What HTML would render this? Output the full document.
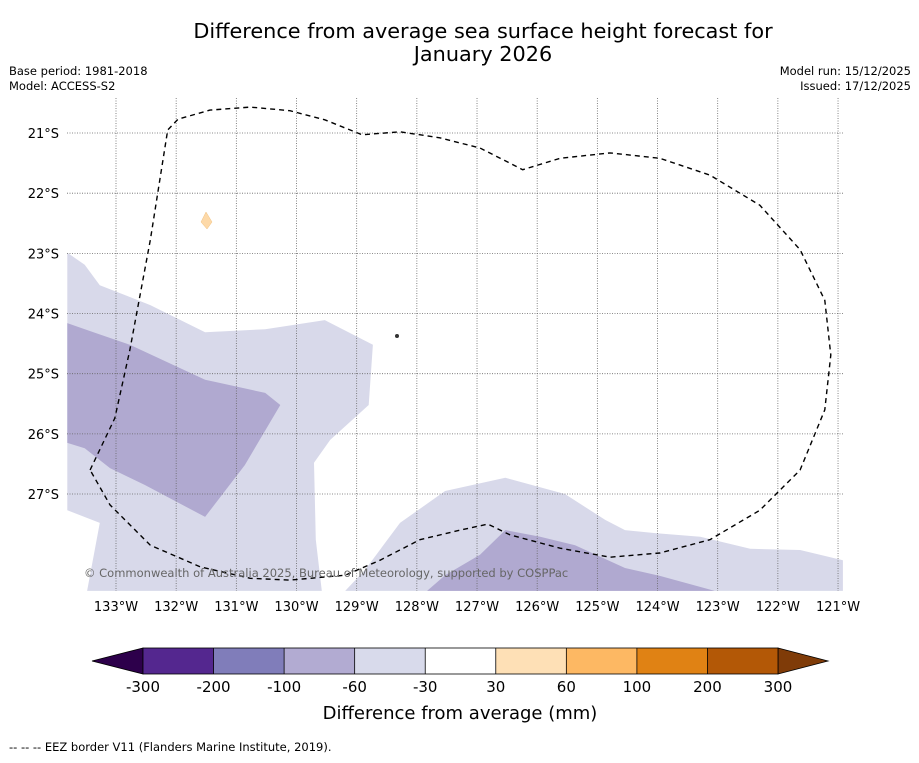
<!DOCTYPE html>
<html><head><meta charset="utf-8"><style>
body{margin:0;background:#fff;font-family:"Liberation Sans","DejaVu Sans",sans-serif;}
svg text{font-family:"DejaVu Sans","Liberation Sans",sans-serif;}
</style></head><body>
<svg id="chart" width="919" height="758" viewBox="0 0 919 758" xmlns="http://www.w3.org/2000/svg">
<text x="483" y="38" font-size="20.8" text-anchor="middle">Difference from average sea surface height forecast for</text>
<text x="483" y="61" font-size="20.8" text-anchor="middle">January 2026</text>
<text x="9" y="75" font-size="11.5">Base period: 1981-2018</text>
<text x="9" y="90" font-size="11.5">Model: ACCESS-S2</text>
<text x="911" y="75" font-size="11.5" text-anchor="end">Model run: 15/12/2025</text>
<text x="911" y="90" font-size="11.5" text-anchor="end">Issued: 17/12/2025</text>
<g id="map"></g>
<g id="cbar"></g>
<text x="460" y="719" font-size="18" text-anchor="middle">Difference from average (mm)</text>
<text x="9" y="751" font-size="11.5">-- -- -- EEZ border V11 (Flanders Marine Institute, 2019).</text>
</svg>
<script>
const lonTicks=[-133,-132,-131,-130,-129,-128,-127,-126,-125,-124,-123,-122,-121];
const latTicks=[-21,-22,-23,-24,-25,-26,-27];
const lightWest=[[-133.81,-22.99],[-133.52,-23.19],[-133.27,-23.53],[-132.43,-23.86],[-131.52,-24.31],[-130.52,-24.26],[-129.53,-24.11],[-128.73,-24.52],[-128.80,-25.52],[-129.44,-26.10],[-129.71,-26.48],[-129.68,-27.76],[-129.58,-28.61],[-133.48,-28.61],[-133.27,-27.48],[-133.81,-27.27]];
const darkWest=[[-133.81,-24.16],[-133.35,-24.32],[-132.77,-24.52],[-131.52,-25.10],[-130.52,-25.32],[-130.27,-25.52],[-130.86,-26.52],[-131.52,-27.38],[-132.52,-26.85],[-133.10,-26.57],[-133.52,-26.24],[-133.81,-26.15]];
const lightSouth=[[-129.19,-28.61],[-128.86,-28.26],[-128.28,-27.48],[-127.53,-26.95],[-126.53,-26.73],[-125.54,-27.00],[-124.87,-27.43],[-124.54,-27.60],[-124.04,-27.65],[-123.29,-27.71],[-122.46,-27.91],[-121.63,-27.93],[-120.92,-28.10],[-120.92,-28.61]];
const darkSouth=[[-127.83,-28.61],[-127.53,-28.35],[-126.95,-28.01],[-126.53,-27.60],[-125.95,-27.71],[-125.37,-27.85],[-124.54,-28.23],[-123.96,-28.36],[-123.05,-28.61]];
const eez=[[-133.43,-26.60],[-133.02,-25.74],[-132.77,-24.61],[-132.43,-22.78],[-132.14,-20.95],[-131.97,-20.77],[-131.44,-20.62],[-130.77,-20.57],[-130.11,-20.63],[-129.53,-20.78],[-128.91,-21.03],[-128.28,-20.98],[-127.62,-21.08],[-126.95,-21.25],[-126.24,-21.61],[-125.62,-21.42],[-124.79,-21.33],[-123.96,-21.42],[-123.13,-21.70],[-122.30,-22.20],[-121.63,-22.94],[-121.22,-23.78],[-121.12,-24.69],[-121.22,-25.60],[-121.63,-26.60],[-122.30,-27.27],[-123.13,-27.76],[-123.96,-27.98],[-124.79,-28.05],[-125.62,-27.90],[-126.45,-27.68],[-126.82,-27.50],[-127.28,-27.60],[-127.95,-27.76],[-128.61,-28.10],[-129.19,-28.35],[-130.11,-28.43],[-130.77,-28.40],[-131.60,-28.21],[-132.43,-27.85],[-133.10,-27.18],[-133.43,-26.60]];
const cbLabels=["-300","-200","-100","-60","-30","30","60","100","200","300"];
const cbColors=["#54278f","#807dba","#b2abd2","#d8daeb","#ffffff","#fee0b6","#fdb863","#e08214","#b35806"];
const NS="http://www.w3.org/2000/svg";
const X0=67,X1=843,Y0=98,Y1=591;
function px(lon){return 116+(lon+133)*60.17;}
function py(lat){return 133+(-21-lat)*60.17;}
function mk(t,a,p){const e=document.createElementNS(NS,t);for(const k in a)e.setAttribute(k,a[k]);p.appendChild(e);return e;}
const map=document.getElementById('map');
function poly(arr,fill,name){const e=mk('polygon',{points:arr.map(p=>px(p[0]).toFixed(1)+','+py(p[1]).toFixed(1)).join(' '),fill:fill},map);

}
const defs=mk('defs',{},map);const cp=mk('clipPath',{id:'clip'},defs);mk('rect',{x:X0,y:Y0,width:X1-X0,height:Y1-Y0},cp);
poly(lightWest,'#d8d9ea','contour-light-west');
poly(darkWest,'#b0a9d0','contour-dark-west');
poly(lightSouth,'#d8d9ea','contour-light-south');
poly(darkSouth,'#b0a9d0','contour-dark-south');
const isl=mk('polygon',{points:'206,212 212,222 207,229 201,222',fill:'#fdd9a8',stroke:'#f0c080','stroke-width':'0.5'},map);


mk('circle',{cx:397,cy:336,r:2,fill:'#333'},map);
lonTicks.forEach(l=>{const x=px(l);
const g=mk('line',{x1:x,x2:x,y1:Y0,y2:Y1,stroke:'#666','stroke-width':'0.8','stroke-dasharray':'1,1.5'},map);


const t=mk('text',{x:x,y:611,'font-size':'13','text-anchor':'middle'},map);t.textContent=Math.abs(l)+'°W';

});
latTicks.forEach(l=>{const y=py(l);
const g=mk('line',{x1:X0,x2:X1,y1:y,y2:y,stroke:'#666','stroke-width':'0.8','stroke-dasharray':'1,1.5'},map);


const t=mk('text',{x:59,y:y+5,'font-size':'13','text-anchor':'end'},map);t.textContent=Math.abs(l)+'°S';

});
const ez=mk('polyline',{points:eez.map(p=>px(p[0]).toFixed(1)+','+py(p[1]).toFixed(1)).join(' '),fill:'none',stroke:'#000','stroke-width':'1.4','stroke-dasharray':'5,4','clip-path':'url(#clip)'},map);


const cr=mk('text',{x:84,y:577,'font-size':'11.5',fill:'#666'},map);cr.textContent='© Commonwealth of Australia 2025, Bureau of Meteorology, supported by COSPPac';


const cb=document.getElementById('cbar');
const cx0=143,cx1=778,cy0=648,cy1=674,w=(cx1-cx0)/cbColors.length;
const lt=mk('polygon',{points:`${cx0},${cy0} ${cx0},${cy1} 92,661`,fill:'#2d004b',stroke:'#000','stroke-width':'0.8'},cb);


const rt=mk('polygon',{points:`${cx1},${cy0} ${cx1},${cy1} 828,661`,fill:'#7f3b08',stroke:'#000','stroke-width':'0.8'},cb);


cbColors.forEach((c,i)=>{const r=mk('rect',{x:cx0+i*w,y:cy0,width:w,height:cy1-cy0,fill:c},cb);


if(i>0)mk('line',{x1:cx0+i*w,x2:cx0+i*w,y1:cy0,y2:cy1,stroke:'#000','stroke-width':'0.8'},cb);});
mk('rect',{x:cx0,y:cy0,width:cx1-cx0,height:cy1-cy0,fill:'none',stroke:'#000','stroke-width':'0.8'},cb);
cbLabels.forEach((s,i)=>{const t=mk('text',{x:cx0+i*w,y:692,'font-size':'15','text-anchor':'middle'},cb);t.textContent=s;

});
</script>
</body></html>
